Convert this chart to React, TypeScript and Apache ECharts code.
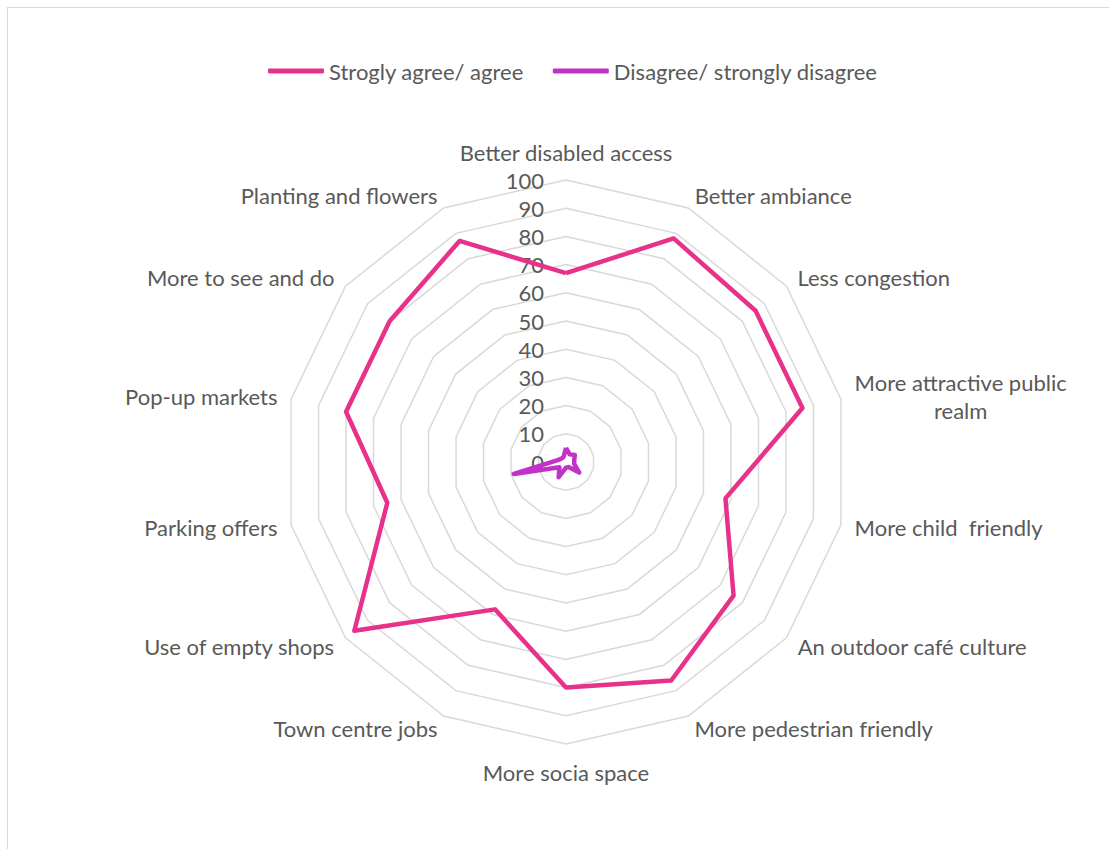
import React, { useEffect, useRef } from "react";
import * as echarts from "echarts";

const categories = [
  "Better disabled access",
  "Better ambiance",
  "Less congestion",
  "More attractive public realm",
  "More child  friendly",
  "An outdoor café culture",
  "More pedestrian friendly",
  "More socia space",
  "Town centre jobs",
  "Use of empty shops",
  "Parking offers",
  "Pop-up markets",
  "More to see and do",
  "Planting and flowers",
];

const seriesNames = ["Strogly agree/ agree", "Disagree/ strongly disagree"];
const agreeValues = [67, 88, 86, 86, 58, 76, 86, 80, 58, 96, 65, 80, 80, 87];
const disagreeValues = [5, 3, 4, 3, 3, 6, 2, 2, 6, 3, 19, 3, 2, 2];
const axisMax = 100;
const axisSplits = 10;

const FONT = "Lato, 'Liberation Sans', sans-serif";
const TEXT = "#595959";

// ECharts radar runs counter-clockwise; reorder so categories run clockwise from the top.
const clockwise = <T,>(arr: T[]): T[] => [arr[0], ...arr.slice(1).reverse()];

export default function App() {
  const ref = useRef<HTMLDivElement>(null);
  useEffect(() => {
    if (!ref.current) return;
    const chart = echarts.init(ref.current, undefined, { renderer: "svg" });
    const indicator = clockwise(categories).map((name, i) => ({
      name,
      max: axisMax,
      min: 0,
      axisLabel: i === 0 ? { show: true } : { show: false },
    }));
    chart.setOption({
      animation: false,
      backgroundColor: "transparent",
      legend: {
        data: seriesNames,
        left: 263,
        top: 55,
        icon: "roundRect",
        itemWidth: 56,
        itemHeight: 5,
        itemGap: 29,
        textStyle: { color: TEXT, fontSize: 22, fontFamily: FONT },
      },
      radar: {
        center: [566, 462],
        radius: 282,
        startAngle: 90,
        shape: "polygon",
        splitNumber: axisSplits,
        indicator,
        nameGap: 14,
        axisName: {
          color: TEXT,
          fontSize: 22,
          fontFamily: FONT,
          formatter: (name: string) => {
            if (name.length > 25) {
              const k = name.lastIndexOf(" ");
              return `{c|${name.slice(0, k)}}\n{c|${name.slice(k + 1)}}`;
            }
            return `{c|${name}}`;
          },
          rich: {
            c: {
              align: "center",
              color: TEXT,
              fontSize: 22,
              fontFamily: FONT,
              lineHeight: 28,
            },
          },
        },
        axisLine: { show: false },
        axisTick: { show: false },
        splitArea: { show: false },
        splitLine: { lineStyle: { color: "#d9d9d9", width: 1.5 } },
        axisLabel: {
          show: false,
          color: TEXT,
          fontSize: 22,
          fontFamily: FONT,
          margin: 22,
        },
      },
      series: [
        {
          type: "radar",
          symbol: "none",
          data: [
            {
              name: seriesNames[0],
              value: clockwise(agreeValues),
              lineStyle: { color: "#E7318A", width: 4.5 },
              itemStyle: { color: "#E7318A" },
            },
            {
              name: seriesNames[1],
              value: clockwise(disagreeValues),
              lineStyle: { color: "#C133C8", width: 4.5 },
              itemStyle: { color: "#C133C8" },
            },
          ],
        },
      ],
    });
    return () => chart.dispose();
  }, []);
  return (
    <div style={{ position: "fixed", left: 0, top: 0, width: 1109, height: 849, background: "#fff" }}>
      <div
        style={{
          position: "absolute",
          left: 7,
          top: 7,
          width: 1120,
          height: 860,
          borderLeft: "1px solid #d9d9d9",
          borderTop: "1px solid #d9d9d9",
        }}
      />
      <div ref={ref} style={{ position: "absolute", left: 0, top: 0, width: 1109, height: 849 }} />
    </div>
  );
}
